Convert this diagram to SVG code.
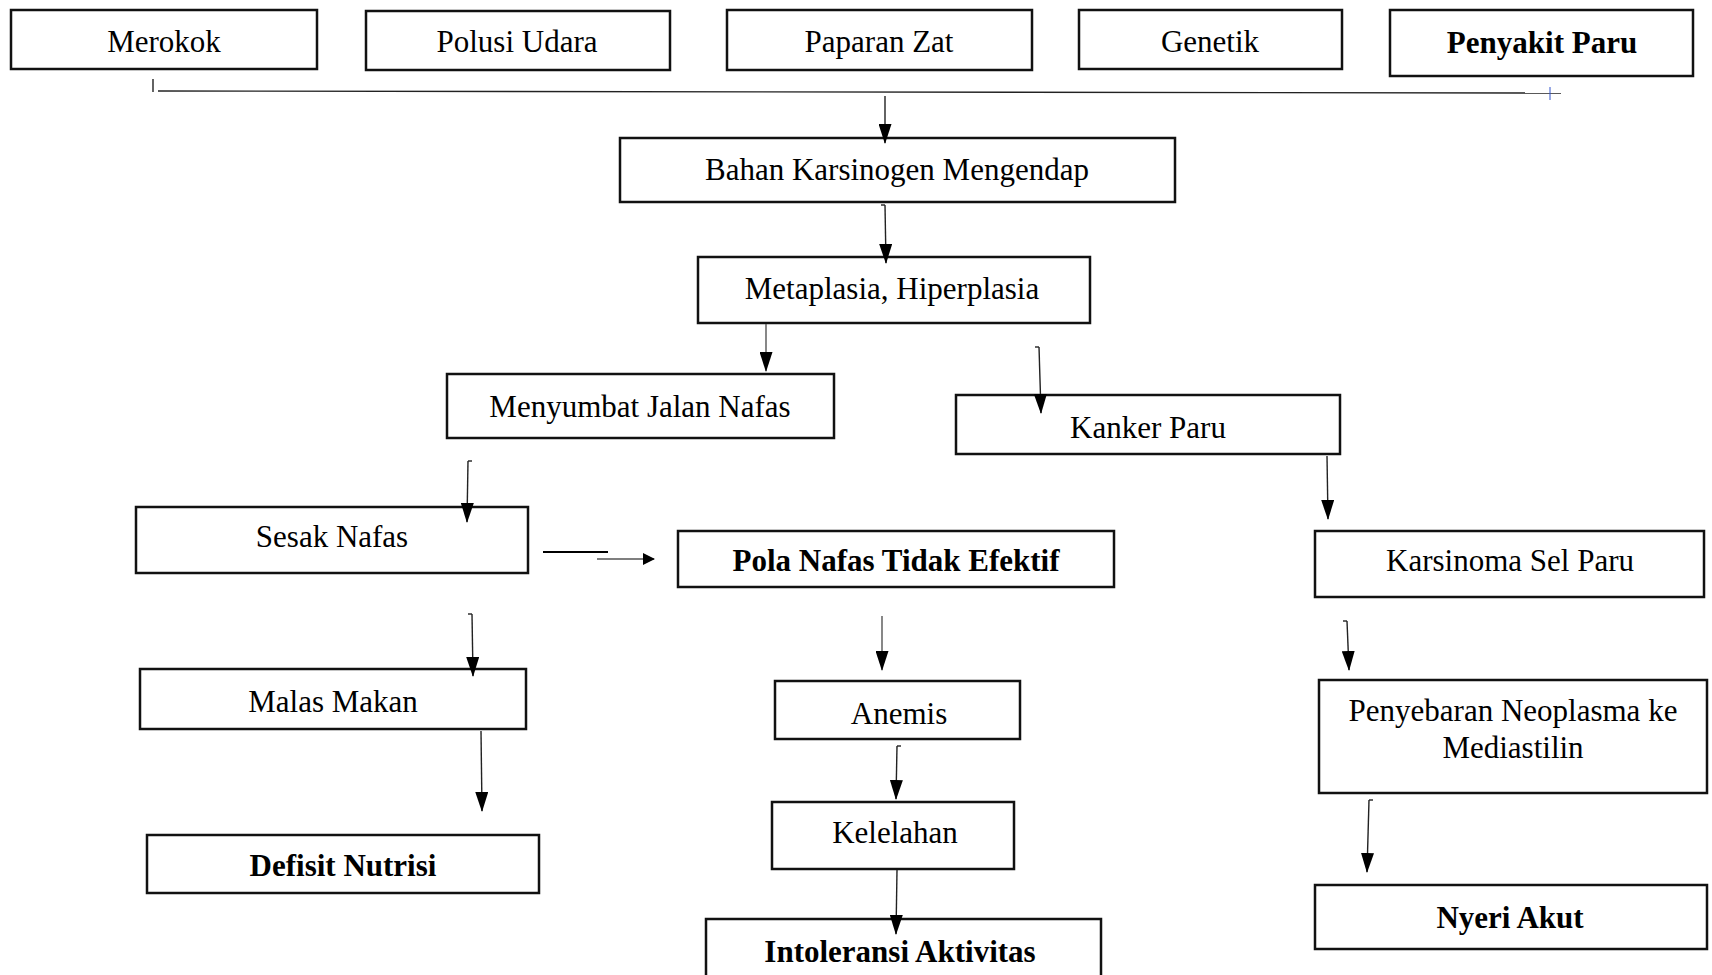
<svg xmlns="http://www.w3.org/2000/svg" width="1712" height="975" viewBox="0 0 1712 975">
<style>
.box{fill:#fff;stroke:#111;stroke-width:2.5}
.t{font-family:"Liberation Serif","Times New Roman",serif;font-size:31px;fill:#000;text-anchor:middle}
.b{font-weight:bold}
.c{stroke:#222;stroke-width:1.4;fill:none}
.g{stroke:#555;stroke-width:1.4;fill:none}
</style>
<defs>
<marker id="ah" markerUnits="userSpaceOnUse" markerWidth="20" markerHeight="13" refX="19" refY="6.5" orient="auto" viewBox="0 0 20 13">
<path d="M0,0 L20,6.5 L0,13 Z" fill="#000"/>
</marker>
<marker id="ahr" markerUnits="userSpaceOnUse" markerWidth="12" markerHeight="12" refX="11" refY="6" orient="auto" viewBox="0 0 12 12">
<path d="M0,0 L12,6 L0,12 Z" fill="#000"/>
</marker>
</defs>

<g id="n-merokok"><rect class="box" x="11" y="10" width="306" height="59"/><text class="t" x="164" y="52">Merokok</text></g>
<g id="n-polusi"><rect class="box" x="366" y="11" width="304" height="59"/><text class="t" x="517" y="52">Polusi Udara</text></g>
<g id="n-paparan"><rect class="box" x="727" y="10" width="305" height="60"/><text class="t" x="879" y="52">Paparan Zat</text></g>
<g id="n-genetik"><rect class="box" x="1079" y="10" width="263" height="59"/><text class="t" x="1210" y="52">Genetik</text></g>
<g id="n-penyakit"><rect class="box" x="1390" y="10" width="303" height="66"/><text class="t b" x="1542" y="53">Penyakit Paru</text></g>

<g id="n-bahan"><rect class="box" x="620" y="138" width="555" height="64"/><text class="t" x="897" y="180">Bahan Karsinogen Mengendap</text></g>
<g id="n-metaplasia"><rect class="box" x="698" y="257" width="392" height="66"/><text class="t" x="892" y="299">Metaplasia, Hiperplasia</text></g>
<g id="n-menyumbat"><rect class="box" x="447" y="374" width="387" height="64"/><text class="t" x="640" y="417">Menyumbat Jalan Nafas</text></g>
<g id="n-kanker"><rect class="box" x="956" y="395" width="384" height="59"/><text class="t" x="1148" y="438">Kanker Paru</text></g>

<g id="n-sesak"><rect class="box" x="136" y="507" width="392" height="66"/><text class="t" x="332" y="547">Sesak Nafas</text></g>
<g id="n-pola"><rect class="box" x="678" y="531" width="436" height="56"/><text class="t b" x="896" y="571">Pola Nafas Tidak Efektif</text></g>
<g id="n-karsinoma"><rect class="box" x="1315" y="531" width="389" height="66"/><text class="t" x="1510" y="571">Karsinoma Sel Paru</text></g>

<g id="n-malas"><rect class="box" x="140" y="669" width="386" height="60"/><text class="t" x="333" y="712">Malas Makan</text></g>
<g id="n-anemis"><rect class="box" x="775" y="681" width="245" height="58"/><text class="t" x="899" y="724">Anemis</text></g>
<g id="n-penyebaran"><rect class="box" x="1319" y="680" width="388" height="113"/><text class="t" x="1513" y="721">Penyebaran Neoplasma ke</text><text class="t" x="1513" y="758">Mediastilin</text></g>

<g id="n-kelelahan"><rect class="box" x="772" y="802" width="242" height="67"/><text class="t" x="895" y="843">Kelelahan</text></g>
<g id="n-defisit"><rect class="box" x="147" y="835" width="392" height="58"/><text class="t b" x="343" y="876">Defisit Nutrisi</text></g>
<g id="n-nyeri"><rect class="box" x="1315" y="885" width="392" height="64"/><text class="t b" x="1510" y="928">Nyeri Akut</text></g>
<g id="n-intoleransi"><rect class="box" x="706" y="919" width="395" height="70"/><text class="t b" x="900" y="962">Intoleransi Aktivitas</text></g>

<g id="connectors">
<line x1="153" y1="79" x2="153" y2="92" class="c"/>
<line x1="158" y1="91" x2="1561" y2="93" class="c"/>
<line x1="1550" y1="87" x2="1550" y2="100" stroke="#3355cc" stroke-width="1"/>
<line x1="885" y1="96" x2="885" y2="143" class="c" marker-end="url(#ah)"/>
<line x1="881" y1="205" x2="885" y2="205" class="c"/>
<line x1="885" y1="205" x2="886" y2="263" class="c" marker-end="url(#ah)"/>
<line x1="766" y1="324" x2="766" y2="371" class="g" marker-end="url(#ah)"/>
<line x1="1035" y1="347" x2="1039" y2="347" class="c"/>
<line x1="1039" y1="347" x2="1041" y2="413" class="c" marker-end="url(#ah)"/>
<line x1="468" y1="461" x2="472" y2="461" class="c"/>
<line x1="468" y1="461" x2="467" y2="522" class="c" marker-end="url(#ah)"/>
<line x1="543" y1="552" x2="608" y2="552" stroke="#000" stroke-width="2"/>
<line x1="597" y1="559" x2="654" y2="559" class="g" marker-end="url(#ahr)"/>
<line x1="468" y1="614" x2="472" y2="614" class="c"/>
<line x1="472" y1="614" x2="473" y2="676" class="c" marker-end="url(#ah)"/>
<line x1="481" y1="731" x2="482" y2="811" class="c" marker-end="url(#ah)"/>
<line x1="882" y1="616" x2="882" y2="670" class="g" marker-end="url(#ah)"/>
<line x1="897" y1="746" x2="901" y2="746" class="c"/>
<line x1="897" y1="746" x2="896" y2="799" class="c" marker-end="url(#ah)"/>
<line x1="897" y1="870" x2="896" y2="934" class="c" marker-end="url(#ah)"/>
<line x1="1327" y1="456" x2="1328" y2="519" class="c" marker-end="url(#ah)"/>
<line x1="1343" y1="621" x2="1347" y2="621" class="c"/>
<line x1="1347" y1="621" x2="1349" y2="670" class="c" marker-end="url(#ah)"/>
<line x1="1369" y1="800" x2="1373" y2="800" class="c"/>
<line x1="1369" y1="800" x2="1367" y2="872" class="c" marker-end="url(#ah)"/>
</g>
</svg>
